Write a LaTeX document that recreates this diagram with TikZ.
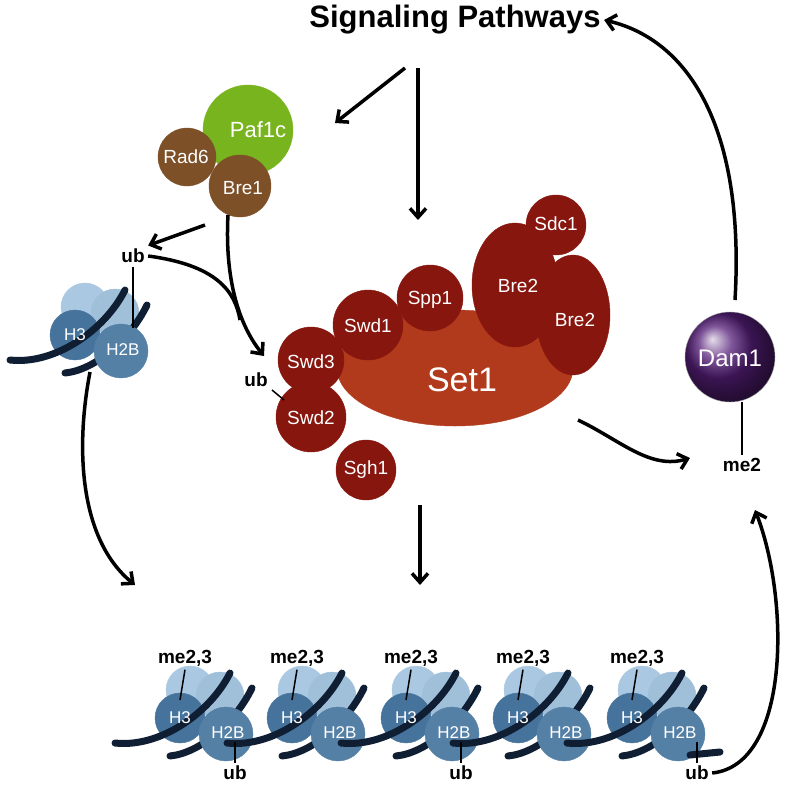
\documentclass[tikz,border=0pt]{standalone}
\usepackage{fontspec}
\setmainfont{Liberation Sans}
\usetikzlibrary{arrows.meta}
\definecolor{subred}{RGB}{135,22,14}
\definecolor{setred}{RGB}{178,58,28}
\definecolor{pafgreen}{RGB}{120,180,30}
\definecolor{bbrown}{RGB}{125,80,40}
\definecolor{dampurple}{RGB}{85,30,120}
\definecolor{hlight}{RGB}{170,200,225}
\definecolor{hdark}{RGB}{70,115,155}
\definecolor{dnablue}{RGB}{15,30,50}
\tikzset{
  lbl/.style={font=\bfseries\fontsize{19}{19}\selectfont},
  sub/.style={font=\fontsize{19}{19}\selectfont, text=white},
  flow/.style={-{Straight Barb[length=9pt,width=16pt]}, line width=3.5pt},
  dna/.style={dnablue, line width=7pt, line cap=round},
  ball/.style={draw=black!40, line width=0.4pt}
}
% nucleosome: #1 = x of H3, #2 = y of H3, #3 = name
\newcommand{\nuc}[3]{%
  \fill[ball, hlight] (#1+10,#2-28) circle (24);
  \fill[ball, hlight!90!hdark] (#1+40,#2-22) circle (24);
  \draw[dna] (#1+72,#2-30) .. controls (#1+55,#2+5) and (#1+20,#2+35) .. (#1-10,#2+38);
  \fill[ball, hdark] (#1,#2) circle (25);
  \fill[ball, hdark!85!hlight] (#1+46,#2+16) circle (27);
  \draw[dna] (#1+50,#2-45) .. controls (#1+30,#2-5) and (#1-20,#2+30) .. (#1-65,#2+25);
  \node[sub, font=\fontsize{17}{17}\selectfont] (#3h3) at (#1,#2) {H3};
  \node[sub, font=\fontsize{17}{17}\selectfont] (#3h2b) at (#1+48,#2+15) {H2B};
}
\begin{document}
\begin{tikzpicture}[x=1pt,y=-1pt]
  \useasboundingbox (0,0) rectangle (795,788);
  % title
  \node[lbl, font=\bfseries\fontsize{31}{31}\selectfont] (sig) at (455,20) {Signaling Pathways};

  % Paf1c complex
  \fill[ball, pafgreen] (248,130) circle (45);
  \fill[ball, bbrown] (187,157) circle (29);
  \fill[ball, bbrown] (240,186) circle (31);
  \node[sub, font=\fontsize{22}{22}\selectfont] (paf) at (258,130) {Paf1c};
  \node[sub] (rad6) at (186,157) {Rad6};
  \node[sub] (bre1) at (243,188) {Bre1};

  % Set1 complex
  \fill[ball, setred] (455,368) ellipse (118 and 58);
  \fill[ball, subred] (573,315) ellipse (37 and 60);
  \fill[ball, subred] (515,285) ellipse (43 and 62);
  \fill[ball, subred] (556,225) circle (30);
  \fill[ball, subred] (430,298) circle (33);
  \fill[ball, subred] (368,325) circle (35);
  \fill[ball, subred] (311,360) circle (33);
  \fill[ball, subred] (311,417) circle (35);
  \fill[ball, subred] (366,470) circle (30);
  \node[sub] (bre2a) at (518,286) {Bre2};
  \node[sub] (bre2b) at (575,320) {Bre2};
  \node[sub] (sdc1) at (556,224) {Sdc1};
  \node[sub] (spp1) at (430,300) {Spp1};
  \node[sub] (swd1) at (368,326) {Swd1};
  \node[sub, font=\fontsize{34}{34}\selectfont] (set1) at (462,380) {Set1};
  \node[sub] (swd3) at (311,362) {Swd3};
  \node[sub] (swd2) at (311,418) {Swd2};
  \node[sub] (sgh1) at (366,470) {Sgh1};
  \node[lbl] (ubsw) at (256,380) {ub};
  \draw[line width=1.5pt] (272,390) -- (284,400);

  % Dam1
  \shade[ball, ball color=dampurple] (730,357) circle (45);
  \node[sub, font=\fontsize{24}{24}\selectfont] (dam1) at (730,358) {Dam1};
  \node[lbl] (me2d) at (742,465) {me2};
  \draw[line width=1.5pt] (742,402) -- (me2d.north);

  % free nucleosome
  \nuc{75}{335}{n}
  \node[lbl] (ubn) at (133,256) {ub};
  \draw[line width=1.5pt] (ubn.south) -- (133,328);

  % array of nucleosomes
  \foreach \i/\x in {1/180,2/292,3/406,4/518,5/632}{
    \nuc{\x}{718}{a\i}
    \node[lbl] (me\i) at (\x+5,658) {me2,3};
    \draw[line width=1.5pt] (me\i.south) -- (\x,700);
  }
  \draw[dna] (690,755) -- (720,752);
  \foreach \i/\x in {1/235,3/461,5/697}{
    \node[lbl] (ub\i) at (\x,773) {ub};
    \draw[line width=1.5pt] (\x,742) -- (ub\i.north);
  }

  % connectors
  \coordinate (s1) at (405,68);
  \coordinate (s2) at (418,68);
  \coordinate (cpx) at (418,220);
  \draw[flow] (s1) -- (335,123);
  \draw[flow] (s2) -- (cpx);
  \draw[flow] (205,225) -- (ubn.north east);
  \draw[line width=3.5pt] (ubn.east) .. controls (215,265) and (235,290) .. (240,320);
  \draw[flow] (228,215) .. controls (225,270) and (235,320) .. (264,356);
  \draw[flow] (90,372) .. controls (75,450) and (80,540) .. (135,585);
  \draw[flow] (420,505) -- (420,585);
  \draw[flow] (578,420) .. controls (620,440) and (650,470) .. (690,458);
  \draw[flow] (735,300) .. controls (745,130) and (690,40) .. (sig.east);
  \draw[flow] (ub5.east) .. controls (790,765) and (790,600) .. (755,510);
\end{tikzpicture}
\end{document}
